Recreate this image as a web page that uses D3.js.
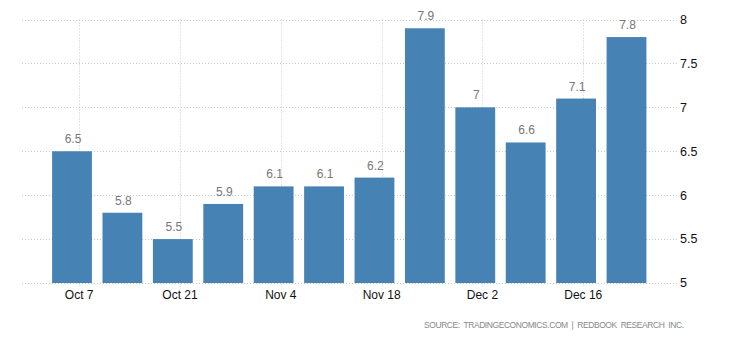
<!DOCTYPE html>
<html>
<head>
<meta charset="utf-8">
<script src="https://cdn.jsdelivr.net/npm/d3@7"></script>
<style>
  html, body { margin: 0; padding: 0; background: #fff; }
  svg { display: block; font-family: "Liberation Sans", Arial, sans-serif; }
</style>
</head>
<body>
<svg id="chart" width="730" height="340"></svg>
<script>
// Weekly Redbook index, year-over-year change (%), week ending Saturday
const weeks = ["2018-10-06", "2018-10-13", "2018-10-20", "2018-10-27", "2018-11-03", "2018-11-10",
               "2018-11-17", "2018-11-24", "2018-12-01", "2018-12-08", "2018-12-15", "2018-12-22"];
const values = [6.5, 5.8, 5.5, 5.9, 6.1, 6.1, 6.2, 7.9, 7, 6.6, 7.1, 7.8];
const xTickDates = ["2018-10-07", "2018-10-21", "2018-11-04", "2018-11-18", "2018-12-02", "2018-12-16"];
const xTickLabels = ["Oct 7", "Oct 21", "Nov 4", "Nov 18", "Dec 2", "Dec 16"];
const yTicks = [5, 5.5, 6, 6.5, 7, 7.5, 8];
const sourceText = "SOURCE:  TRADINGECONOMICS.COM  |  REDBOOK  RESEARCH  INC.";

const parse = d3.utcParse("%Y-%m-%d");
const weekDates = weeks.map(parse);
const tickDates = xTickDates.map(parse);

const svg = d3.select("#chart");

const x = d3.scaleUtc()
  .domain([weekDates[0], weekDates[weekDates.length - 1]])
  .range([72, 626.5]);
const pitch = x(weekDates[1]) - x(weekDates[0]);
const barW = pitch * 0.79;

const y = d3.scaleLinear().domain([5, 8]).range([283, 19.5]);

const gridLeft = 22, gridRight = 677;

// horizontal dotted gridlines
svg.append("g").selectAll("line")
  .data(yTicks)
  .join("line")
  .attr("x1", gridLeft).attr("x2", gridRight)
  .attr("y1", d => Math.round(y(d)) + 0.5).attr("y2", d => Math.round(y(d)) + 0.5)
  .attr("stroke", "#c8c8c8").attr("stroke-width", 1).attr("stroke-dasharray", "1,2");

// vertical dotted gridlines at date ticks
svg.append("g").selectAll("line")
  .data(tickDates)
  .join("line")
  .attr("x1", d => Math.round(x(d)) + 0.5).attr("x2", d => Math.round(x(d)) + 0.5)
  .attr("y1", y(8)).attr("y2", y(5) + 4)
  .attr("stroke", "#c8c8c8").attr("stroke-width", 1).attr("stroke-dasharray", "1,2");

// bars
svg.append("g").selectAll("rect")
  .data(values)
  .join("rect")
  .attr("x", (d, i) => x(weekDates[i]) - barW / 2)
  .attr("width", barW)
  .attr("y", d => y(d))
  .attr("height", d => y(5) - y(d))
  .attr("fill", "#4682b4");

// value labels
svg.append("g").selectAll("text")
  .data(values)
  .join("text")
  .attr("x", (d, i) => x(weekDates[i]) + 1)
  .attr("y", d => y(d) - 8)
  .attr("text-anchor", "middle")
  .attr("font-size", 12)
  .attr("fill", "#777")
  .text(d => d);

// right y axis labels
svg.append("g").selectAll("text")
  .data(yTicks)
  .join("text")
  .attr("x", 680)
  .attr("y", d => y(d))
  .attr("dy", "0.35em")
  .attr("font-size", 12.5)
  .attr("fill", "#111")
  .text(d => d);

// x axis labels
svg.append("g").selectAll("text")
  .data(tickDates)
  .join("text")
  .attr("x", d => x(d))
  .attr("y", 299)
  .attr("text-anchor", "middle")
  .attr("font-size", 12)
  .attr("fill", "#111")
  .text((d, i) => xTickLabels[i]);

// source note
svg.append("text")
  .attr("x", 424)
  .attr("y", 328)
  .attr("font-size", 8.5)
  .attr("textLength", 260)
  .attr("lengthAdjust", "spacing")
  .attr("fill", "#888")
  .style("white-space", "pre")
  .text(sourceText);
</script>
</body>
</html>
